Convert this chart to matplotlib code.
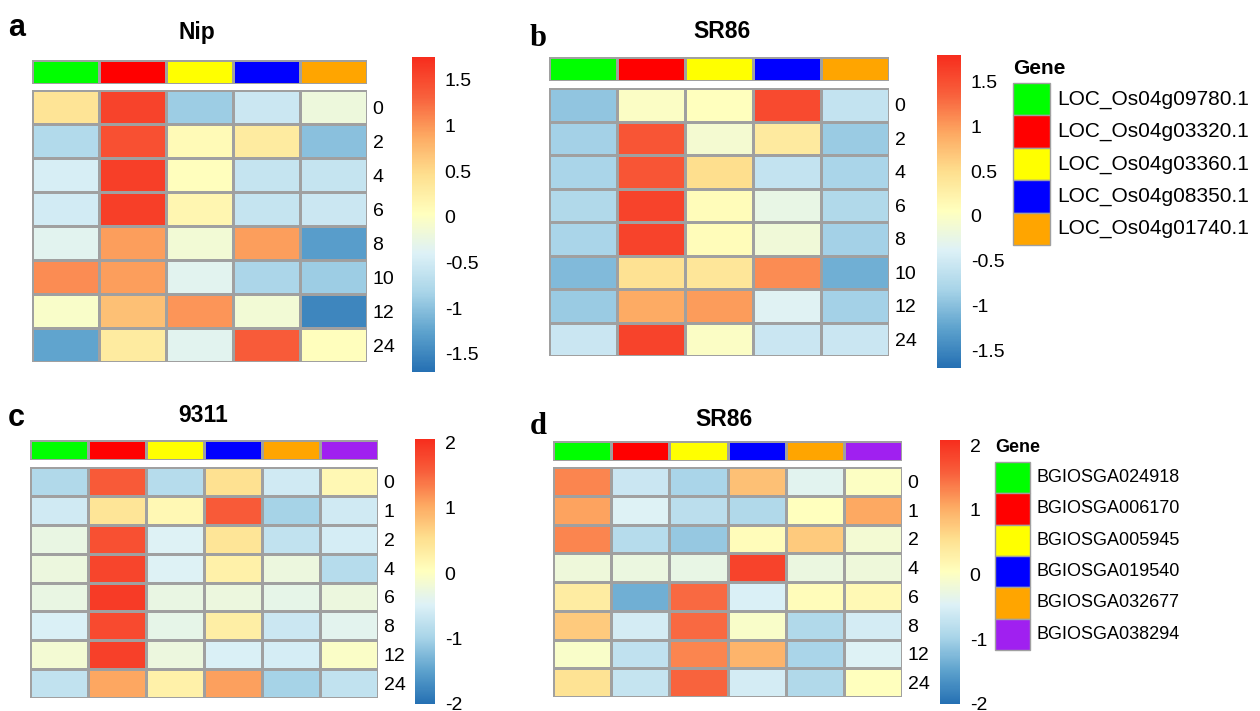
import numpy as np
import matplotlib
matplotlib.use('Agg')
from matplotlib import pyplot as plt
from matplotlib.colors import LinearSegmentedColormap, ListedColormap
from matplotlib.patches import Rectangle

# ---- datos ----
times_ab = ['0', '2', '4', '6', '8', '10', '12', '24']
times_cd = ['0', '1', '2', '4', '6', '8', '12', '24']

genes_ab = ['LOC_Os04g09780.1', 'LOC_Os04g03320.1', 'LOC_Os04g03360.1',
            'LOC_Os04g08350.1', 'LOC_Os04g01740.1']
genes_cd = ['BGIOSGA024918', 'BGIOSGA006170', 'BGIOSGA005945',
            'BGIOSGA019540', 'BGIOSGA032677', 'BGIOSGA038294']
gene_colors = ['#00FF00', '#FF0000', '#FFFF00', '#0000FF', '#FFA500', '#A020F0']

# filas = tiempos, columnas = genes
nip = [[0.40, 1.55, -0.90, -0.55, -0.20],
       [-0.75, 1.45, 0.10, 0.30, -1.00],
       [-0.45, 1.60, 0.05, -0.60, -0.60],
       [-0.50, 1.60, 0.15, -0.60, -0.55],
       [-0.35, 0.95, -0.15, 0.95, -1.30],
       [1.05, 0.95, -0.35, -0.80, -0.90],
       [-0.05, 0.70, 1.00, -0.15, -1.50],
       [-1.25, 0.30, -0.35, 1.35, 0.05]]

sr86_a = [[-0.95, 0.00, 0.05, 1.55, -0.60],
          [-0.85, 1.45, -0.10, 0.35, -0.90],
          [-0.80, 1.45, 0.50, -0.60, -0.80],
          [-0.75, 1.60, 0.10, -0.25, -0.75],
          [-0.80, 1.60, 0.10, -0.15, -0.85],
          [-1.05, 0.45, 0.40, 1.10, -1.15],
          [-0.90, 0.90, 1.00, -0.35, -0.85],
          [-0.55, 1.60, 0.00, -0.55, -0.55]]

c9311 = [[-0.90, 1.60, -0.85, 0.50, -0.60, 0.15],
         [-0.60, 0.45, 0.15, 1.60, -1.00, -0.60],
         [-0.30, 1.70, -0.45, 0.45, -0.75, -0.55],
         [-0.25, 1.80, -0.45, 0.25, -0.25, -0.85],
         [-0.30, 1.90, -0.30, -0.25, -0.35, -0.25],
         [-0.50, 1.75, -0.35, 0.30, -0.65, -0.40],
         [-0.15, 1.85, -0.25, -0.50, -0.55, -0.05],
         [-0.75, 1.05, 0.25, 1.10, -1.00, -0.75]]

sr86_b = [[1.30, -0.65, -0.95, 0.85, -0.40, 0.00],
          [1.10, -0.45, -0.80, -0.90, 0.05, 1.05],
          [1.30, -0.85, -1.10, 0.10, 0.75, -0.15],
          [-0.20, -0.25, -0.30, 1.85, -0.25, -0.20],
          [0.35, -1.35, 1.50, -0.50, 0.10, 0.15],
          [0.75, -0.55, 1.50, -0.05, -0.90, -0.55],
          [-0.05, -0.75, 1.30, 0.95, -0.95, -0.45],
          [0.50, -0.70, 1.55, -0.55, -0.90, 0.05]]

cmap = LinearSegmentedColormap.from_list('rdylbu', [
    '#2570B3', '#5DA2CD', '#A8D4E8', '#DDF1F7', '#FFFFBF',
    '#FEE08F', '#FDA962', '#F8603C', '#F72D1D'])

W, H = 1260, 711
fig = plt.figure(figsize=(W / 100, H / 100), dpi=100)
plt.rcParams['font.family'] = ['Liberation Sans', 'DejaVu Sans']


def px(x0, y0, x1, y1):
    return [x0 / W, 1 - y1 / H, (x1 - x0) / W, (y1 - y0) / H]


def panel(data, times, ncol, vmin, vmax, ticks, tlabels, annot, heat, cbar,
          title, tx, ty, letter, lx, ly, lserif, legend=None):
    data = np.array(data)
    # barra de anotacion
    ax = fig.add_axes(px(*annot))
    ax.pcolormesh(np.arange(ncol).reshape(1, -1), cmap=ListedColormap(gene_colors[:ncol]),
                  vmin=-0.5, vmax=ncol - 0.5, edgecolors='#A0A0A0', linewidth=1)
    ax.set_axis_off()
    # mapa de calor
    ax = fig.add_axes(px(*heat))
    m = ax.pcolormesh(data, cmap=cmap, vmin=vmin, vmax=vmax,
                      edgecolors='#A0A0A0', linewidth=1)
    ax.set_ylim(len(times), 0)
    ax.set_xlim(0, ncol)
    ax.set_xticks([])
    ax.yaxis.tick_right()
    ax.set_yticks(np.arange(len(times)) + 0.5)
    ax.set_yticklabels(times, fontsize=14)
    ax.tick_params(axis='y', length=0, pad=4)
    for s in ax.spines.values():
        s.set_visible(False)
    # barra de color
    cax = fig.add_axes(px(*cbar))
    cb = fig.colorbar(m, cax=cax, ticks=ticks)
    cb.set_ticklabels(tlabels)
    cb.outline.set_visible(False)
    cax.tick_params(length=0, labelsize=14, pad=7)
    fig.text(tx / W, 1 - ty / H, title, fontsize=16.5, fontweight='bold',
             ha='center', va='center')
    fig.text(lx / W, 1 - ly / H, letter, fontsize=22, fontweight='bold',
             ha='left', va='center',
             family=['Liberation Serif'] if lserif else ['Liberation Sans'])
    if legend:
        names, gx, gy, bw, bh, fs = legend
        lax = fig.add_axes([0, 0, 1, 1])
        lax.set_xlim(0, W)
        lax.set_ylim(H, 0)
        lax.set_axis_off()
        lax.text(gx, gy - 14, 'Gene', fontsize=fs, fontweight='bold', va='center')
        for i, n in enumerate(names):
            lax.add_patch(Rectangle((gx, gy + i * bh), bw, bh, facecolor=gene_colors[i],
                                    edgecolor='#A0A0A0', linewidth=1))
            lax.text(gx + bw + 7, gy + (i + 0.5) * bh, n, fontsize=fs, va='center')


panel(nip, times_ab, 5, -1.7, 1.75, [-1.5, -1, -0.5, 0, 0.5, 1, 1.5],
      ['-1.5', '-1', '-0.5', '0', '0.5', '1', '1.5'],
      (32, 60, 367, 84), (32, 90, 367, 362), (412, 57, 435, 372),
      'Nip', 197, 33, 'a', 8, 28, False)

panel(sr86_a, times_ab, 5, -1.7, 1.8, [-1.5, -1, -0.5, 0, 0.5, 1, 1.5],
      ['-1.5', '-1', '-0.5', '0', '0.5', '1', '1.5'],
      (549, 57, 889, 81), (549, 88, 889, 356), (937, 55, 961, 368),
      'SR86', 722, 32, 'b', 530, 38, True,
      legend=(genes_ab, 1013, 83, 37, 32.4, 15))

panel(c9311, times_cd, 6, -2, 2.05, [-2, -1, 0, 1, 2],
      ['-2', '-1', '0', '1', '2'],
      (30, 440, 378, 460), (30, 467, 378, 698), (415, 439, 435, 704),
      '9311', 203, 416, 'c', 8, 418, False)

panel(sr86_b, times_cd, 6, -2, 2.08, [-2, -1, 0, 1, 2],
      ['-2', '-1', '0', '1', '2'],
      (553, 441, 902, 461), (553, 467, 902, 697), (940, 440, 960, 704),
      'SR86', 724, 420, 'd', 530, 426, True,
      legend=(genes_cd, 995, 462, 35, 31.3, 13))

fig.savefig('out.png', dpi=100)
